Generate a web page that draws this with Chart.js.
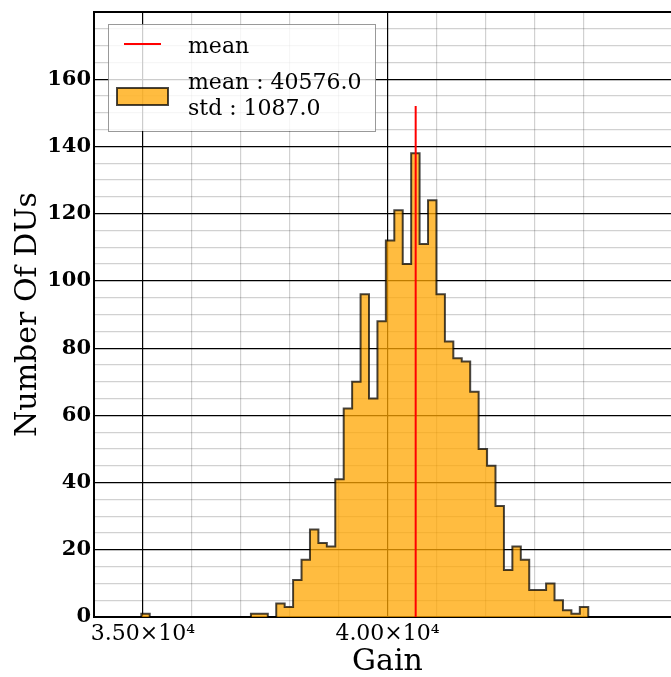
<!DOCTYPE html>
<html>
<head>
<meta charset="utf-8">
<script src="https://cdn.jsdelivr.net/npm/chart.js@4.4.1/dist/chart.umd.min.js"></script>
<style>
  html, body { margin: 0; padding: 0; background: #fff; overflow: hidden; }
  #wrap { width: 700px; height: 677px; }
</style>
</head>
<body>
<div id="wrap"><canvas id="cGain" width="700" height="677"></canvas></div>
<script>
// ── Datos del histograma ──────────────────────────────────────────
const binStart = 34967;
const binWidth = 172.4;
const counts = [
  1, 0, 0, 0, 0, 0, 0, 0, 0, 0, 0, 0, 0, 1, 1, 0, 4, 3, 11, 17,
  26, 22, 21, 41, 62, 70, 96, 65, 88, 112, 121, 105, 138, 111, 124, 96, 82, 77, 76, 67,
  50, 45, 33, 14, 21, 17, 8, 8, 10, 5, 2, 1, 3
];
const meanGain = 40576;
const meanLineTop = 152;
const legendMean = 'mean';
const legendStats = ['mean : 40576.0', 'std : 1087.0'];

const xGridValues = [34000, 35000, 36000, 37000, 38000, 39000, 40000, 41000, 42000, 43000, 44000];
const xTickValues = [35000, 40000];
const xTickLabels = ['3.50×10⁴', '4.00×10⁴'];
const yTickValues = [0, 20, 40, 60, 80, 100, 120, 140, 160];

const FILL = 'rgba(255,165,0,0.75)';
const EDGE = 'rgba(0,0,0,0.72)';
const SERIF = "'DejaVu Serif', serif";

// contorno escalonado: arranca y termina en cero
const stepPts = [{ x: binStart, y: 0 }];
counts.forEach((c, i) => stepPts.push({ x: binStart + i * binWidth, y: c }));
stepPts.push({ x: binStart + counts.length * binWidth, y: 0 });

// ── Leyenda y marco superior ──────────────────────────────────────
const framePlugin = {
  id: 'frame',
  afterDraw(chart) {
    const { ctx, chartArea: a } = chart;
    ctx.save();
    ctx.strokeStyle = '#000';
    ctx.lineWidth = 2;
    ctx.beginPath();
    ctx.moveTo(a.left - 1, a.top);
    ctx.lineTo(a.right, a.top);
    ctx.stroke();

    // caja de leyenda
    ctx.fillStyle = 'rgba(255,255,255,0.8)';
    ctx.fillRect(108, 24, 268, 107);
    ctx.strokeStyle = 'rgba(0,0,0,0.4)';
    ctx.lineWidth = 1;
    ctx.strokeRect(108.5, 24.5, 267, 107);

    ctx.strokeStyle = 'red';
    ctx.lineWidth = 2;
    ctx.beginPath();
    ctx.moveTo(124, 44);
    ctx.lineTo(161, 44);
    ctx.stroke();

    ctx.fillStyle = FILL;
    ctx.fillRect(117, 88, 51, 17);
    ctx.strokeStyle = EDGE;
    ctx.lineWidth = 2;
    ctx.strokeRect(117, 88, 51, 17);

    ctx.fillStyle = '#000';
    ctx.font = '22px ' + SERIF;
    ctx.textBaseline = 'alphabetic';
    ctx.textAlign = 'left';
    ctx.fillText(legendMean, 188, 53);
    ctx.fillText(legendStats[0], 188, 89);
    ctx.fillText(legendStats[1], 188, 115);
    ctx.restore();
  }
};

// ── Grafico ───────────────────────────────────────────────────────
new Chart(document.getElementById('cGain'), {
  type: 'line',
  data: {
    datasets: [
      {
        data: stepPts,
        stepped: true,
        fill: 'origin',
        backgroundColor: FILL,
        borderColor: EDGE,
        borderWidth: 2,
        pointRadius: 0,
        order: 2,
      },
      {
        data: [{ x: meanGain, y: 0 }, { x: meanGain, y: meanLineTop }],
        borderColor: 'red',
        borderWidth: 2,
        pointRadius: 0,
        fill: false,
        order: 1,
      },
    ],
  },
  options: {
    responsive: false,
    animation: false,
    layout: { padding: { top: 12, right: 19, left: 0, bottom: 0 } },
    plugins: { legend: { display: false }, tooltip: { enabled: false } },
    scales: {
      x: {
        type: 'linear',
        min: 34000,
        max: 46000,
        z: 1,
        afterBuildTicks: s => { s.ticks = xGridValues.map(v => ({ value: v })); },
        afterFit: s => { s.height = 60; s.paddingLeft = 0; s.paddingRight = 0; },
        grid: {
          drawTicks: false,
          color: c => xTickValues.includes(c.tick.value) ? '#000' : 'rgba(0,0,0,0.18)',
          lineWidth: 1.2,
        },
        border: { display: true, color: '#000', width: 2 },
        ticks: {
          autoSkip: false,
          maxRotation: 0,
          padding: 4,
          color: '#000',
          font: { family: SERIF, size: 22 },
          callback: v => { const i = xTickValues.indexOf(v); return i >= 0 ? xTickLabels[i] : ''; },
        },
        title: {
          display: true,
          text: 'Gain',
          color: '#000',
          font: { family: SERIF, size: 30, lineHeight: 1 },
          padding: { top: 0, bottom: 0 },
        },
      },
      y: {
        min: 0,
        max: 180,
        z: 1,
        afterFit: s => { s.width = 94; s.paddingTop = 0; s.paddingBottom = 0; },
        grid: {
          drawTicks: false,
          color: c => c.tick.value % 20 === 0 ? '#000' : 'rgba(0,0,0,0.18)',
          lineWidth: 1.2,
        },
        border: { display: true, color: '#000', width: 2 },
        ticks: {
          stepSize: 5,
          autoSkip: false,
          padding: 3,
          color: '#000',
          font: { family: SERIF, size: 21, weight: 'bold' },
          callback: v => yTickValues.includes(v) ? String(v) : '',
        },
        title: {
          display: true,
          text: 'Number Of DUs',
          color: '#000',
          font: { family: SERIF, size: 30, lineHeight: 1 },
          padding: { top: 13, bottom: 0 },
        },
      },
    },
  },
  plugins: [framePlugin],
});
</script>
</body>
</html>
